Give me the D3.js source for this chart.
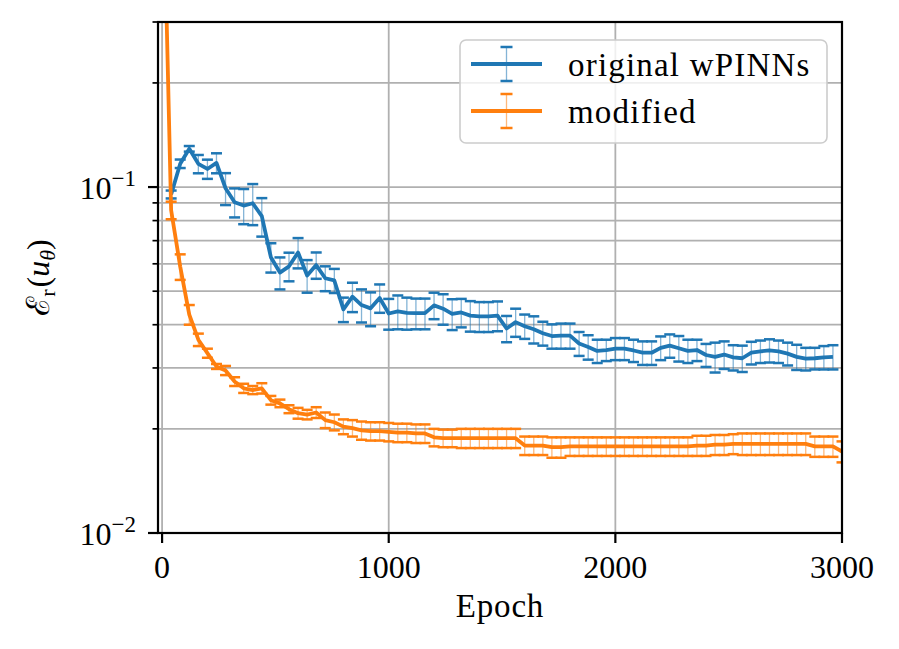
<!DOCTYPE html>
<html><head><meta charset="utf-8">
<script src="https://cdn.jsdelivr.net/npm/d3@7/dist/d3.min.js"></script>
<style>
body{margin:0;background:#fff}
svg{display:block}
text{font-family:"Liberation Serif","DejaVu Serif",serif;fill:#000}
</style>
</head><body>
<svg id="chart" width="899" height="649"></svg>
<script>
// ---------------- data ----------------
const blueEpochs = [40,80,120,160,200,240,280,320,360,400,440,480,520,560,600,640,680,720,760,800,
  840,880,920,960,1000,1040,1080,1120,1160,1200,1240,1280,1320,1360,1400,1440,1480,1520,1560,1600,
  1640,1680,1720,1760,1800,1840,1880,1920,1960,2000,2040,2080,2120,2160,2200,2240,2280,2320,2360,2400,
  2440,2480,2520,2560,2600,2640,2680,2720,2760,2800,2840,2880,2920,2960];
const blueMean = [0.0952,0.1168,0.1290,0.1167,0.1128,0.1174,0.0992,0.0904,0.0884,0.0898,0.0824,0.0627,0.0566,0.0590,0.0647,0.0555,0.0595,0.0545,0.0537,0.0443,
  0.0482,0.0456,0.0446,0.0478,0.0431,0.0437,0.0433,0.0432,0.0432,0.0455,0.0445,0.0430,0.0434,0.0425,0.0423,0.0423,0.0425,0.0390,0.0407,0.0396,
  0.0388,0.0378,0.0371,0.0372,0.0372,0.0353,0.0345,0.0336,0.0338,0.0341,0.0341,0.0337,0.0332,0.0332,0.0343,0.0348,0.0342,0.0336,0.0338,0.0327,
  0.0323,0.0328,0.0322,0.0320,0.0332,0.0335,0.0337,0.0335,0.0330,0.0323,0.0319,0.0320,0.0322,0.0323];
const blueErr = [0.0025,0.0033,0.0024,0.0071,0.0072,0.0078,0.0105,0.0087,0.0103,0.0122,0.0105,0.0061,0.0060,0.0056,0.0065,0.0060,0.0052,0.0045,0.0043,0.0036,
  0.0047,0.0050,0.0050,0.0045,0.0044,0.0049,0.0046,0.0044,0.0044,0.0040,0.0045,0.0044,0.0041,0.0043,0.0042,0.0042,0.0042,0.0034,0.0038,0.0032,
  0.0035,0.0030,0.0030,0.0031,0.0031,0.0028,0.0028,0.0026,0.0024,0.0025,0.0025,0.0025,0.0026,0.0026,0.0027,0.0027,0.0029,0.0026,0.0024,0.0025,
  0.0032,0.0030,0.0027,0.0028,0.0025,0.0025,0.0026,0.0025,0.0025,0.0027,0.0024,0.0023,0.0025,0.0026];

const orangeEpochs = [0,40,80,120,160,200,240,280,320,360,400,440,480,520,560,600,640,680,720,760,800,
  840,880,920,960,1000,1040,1080,1120,1160,1200,1240,1280,1320,1360,1400,1440,1480,1520,1560,1600,
  1640,1680,1720,1760,1800,1840,1880,1920,1960,2000,2040,2080,2120,2160,2200,2240,2280,2320,2360,2400,
  2440,2480,2520,2560,2600,2640,2680,2720,2760,2800,2840,2880,2920,2960,3000];
const orangeMean = [1.10,0.0857,0.0589,0.0428,0.0362,0.0331,0.0303,0.0295,0.0274,0.0262,0.0259,0.0262,0.0242,0.0237,0.0228,0.0222,0.0220,0.0223,0.0212,0.0209,0.0203,
  0.0201,0.0198,0.0197,0.0197,0.0196,0.0195,0.0195,0.0194,0.0194,0.0189,0.0188,0.0188,0.0188,0.0188,0.0188,0.0188,0.0188,0.0188,0.0188,0.0179,
  0.0179,0.0179,0.0177,0.0177,0.0178,0.0178,0.0178,0.0178,0.0178,0.0178,0.0178,0.0178,0.0178,0.0178,0.0178,0.0178,0.0178,0.0178,0.0179,0.0179,
  0.0180,0.0180,0.0181,0.0181,0.0181,0.0181,0.0181,0.0181,0.0181,0.0181,0.0181,0.0178,0.0178,0.0178,0.0172];
const orangeErr = [0.08,0.0050,0.0050,0.0028,0.0015,0.0010,0.0005,0.0009,0.0008,0.0008,0.0007,0.0009,0.0007,0.0006,0.0006,0.0008,0.0007,0.0008,0.0011,0.0011,0.0010,
  0.0011,0.0012,0.0012,0.0012,0.0012,0.0012,0.0012,0.0012,0.0012,0.0011,0.0011,0.0011,0.0012,0.0012,0.0012,0.0012,0.0012,0.0012,0.0012,0.0011,
  0.0011,0.0011,0.0012,0.0012,0.0011,0.0011,0.0011,0.0011,0.0011,0.0011,0.0011,0.0011,0.0011,0.0011,0.0011,0.0011,0.0011,0.0011,0.0012,0.0012,
  0.0012,0.0012,0.0012,0.0013,0.0013,0.0013,0.0013,0.0013,0.0013,0.0013,0.0013,0.0012,0.0012,0.0012,0.0012];

const seriesNames = ["original wPINNs","modified"];
const seriesColors = ["#1f77b4","#ff7f0e"];
const xTicks = [0,1000,2000,3000];
const yMajorTicks = [0.01,0.1];
const yMinorTicks = [0.02,0.03,0.04,0.05,0.06,0.07,0.08,0.09,0.2,0.3];
const yTickExp = {0.01:"\u22122",0.1:"\u22121"};
const xLabel = "Epoch";

// ---------------- layout ----------------
const L=158, R=842, T=22, B=533;
const svg = d3.select("#chart");
const x = d3.scaleLinear().domain([-18,3000]).range([L,R]);
const y = d3.scaleLog().domain([0.01,0.3]).range([B,T]);
const gridColor="#b0b0b0";
const lineW = 3.8, capW = 2.5, barW = 1.3;

// grid
const grid = svg.append("g");
grid.selectAll("line.gx").data(xTicks).join("line")
  .attr("x1",d=>x(d)).attr("x2",d=>x(d)).attr("y1",T).attr("y2",B)
  .attr("stroke",gridColor).attr("stroke-width",1.8);
grid.selectAll("line.gy").data(yMajorTicks.concat(yMinorTicks)).join("line")
  .attr("x1",L).attr("x2",R).attr("y1",d=>y(d)).attr("y2",d=>y(d))
  .attr("stroke",gridColor).attr("stroke-width",1.8);

// clip
svg.append("defs").append("clipPath").attr("id","clip")
  .append("rect").attr("x",L).attr("y",T).attr("width",R-L).attr("height",B-T);
const plot = svg.append("g").attr("clip-path","url(#clip)");

const series = [
  {ep:blueEpochs, m:blueMean, e:blueErr, c:seriesColors[0]},
  {ep:orangeEpochs, m:orangeMean, e:orangeErr, c:seriesColors[1]}
];
const capHalf = 5.5;
// bars & caps
series.forEach(s=>{
  const pts = s.ep.map((ep,i)=>({ep, m:s.m[i], e:s.e[i]}));
  const g = plot.append("g");
  g.selectAll("line.bar").data(pts).join("line")
    .attr("x1",d=>x(d.ep)).attr("x2",d=>x(d.ep))
    .attr("y1",d=>y(d.m+d.e)).attr("y2",d=>y(Math.max(d.m-d.e,1e-4)))
    .attr("stroke",s.c).attr("stroke-width",barW).attr("stroke-opacity",0.55);
  ["hi","lo"].forEach(k=>{
    g.selectAll("line.cap"+k).data(pts).join("line")
      .attr("x1",d=>x(d.ep)-capHalf).attr("x2",d=>x(d.ep)+capHalf)
      .attr("y1",d=>y(k==="hi"?d.m+d.e:d.m-d.e)).attr("y2",d=>y(k==="hi"?d.m+d.e:d.m-d.e))
      .attr("stroke",s.c).attr("stroke-width",capW);
  });
});
// lines
series.forEach(s=>{
  const pts = s.ep.map((ep,i)=>[ep,s.m[i]]);
  plot.append("path").datum(pts)
    .attr("d",d3.line().x(d=>x(d[0])).y(d=>y(d[1])))
    .attr("fill","none").attr("stroke",s.c).attr("stroke-width",lineW)
    .attr("stroke-linejoin","round").attr("stroke-linecap","butt");
});

// spines
svg.append("rect").attr("x",L).attr("y",T).attr("width",R-L).attr("height",B-T)
  .attr("fill","none").attr("stroke","#000").attr("stroke-width",2.2);

// x ticks
const xt = svg.append("g");
xt.selectAll("line").data(xTicks).join("line")
  .attr("x1",d=>x(d)).attr("x2",d=>x(d)).attr("y1",B).attr("y2",B+10)
  .attr("stroke","#000").attr("stroke-width",2.2);
xt.selectAll("text").data(xTicks).join("text")
  .attr("x",d=>x(d)).attr("y",578).attr("text-anchor","middle")
  .attr("font-size",32).text(d=>d);

// y ticks
const yt = svg.append("g");
yt.selectAll("line.maj").data(yMajorTicks).join("line")
  .attr("x1",L-10).attr("x2",L).attr("y1",d=>y(d)).attr("y2",d=>y(d))
  .attr("stroke","#000").attr("stroke-width",2.2);
yt.selectAll("line.min").data(yMinorTicks).join("line")
  .attr("x1",L-5.5).attr("x2",L).attr("y1",d=>y(d)).attr("y2",d=>y(d))
  .attr("stroke","#000").attr("stroke-width",1.7);
yt.selectAll("text").data(yMajorTicks).join("text")
  .attr("x",136).attr("y",d=>y(d)+12).attr("text-anchor","end").attr("font-size",32)
  .each(function(d){
    const t=d3.select(this);
    t.append("tspan").text("10");
    t.append("tspan").attr("dy",-13).attr("font-size",23).text(yTickExp[d]);
  });

// axis labels
svg.append("text").attr("x",(L+R)/2).attr("y",617).attr("text-anchor","middle")
  .attr("font-size",33).attr("letter-spacing",0.8).text(xLabel);
const yl = svg.append("text").attr("transform","translate(49,"+((T+B)/2)+") rotate(-90)")
  .attr("text-anchor","middle").attr("font-size",32);
yl.append("tspan").text("\u2130");
yl.append("tspan").attr("dy",6).attr("font-size",22).text("r");
yl.append("tspan").attr("dy",-6).attr("dx",2).text("(");
yl.append("tspan").attr("font-style","italic").text("u");
yl.append("tspan").attr("dy",6).attr("font-size",22).attr("font-style","italic").text("\u03b8");
yl.append("tspan").attr("dy",-6).text(")");

// legend
const lg = svg.append("g");
lg.append("rect").attr("x",460).attr("y",40).attr("width",367).attr("height",103)
  .attr("rx",6).attr("fill","#fff").attr("fill-opacity",0.8)
  .attr("stroke","#cccccc").attr("stroke-width",1.6);
seriesNames.forEach((name,i)=>{
  const cy = 64 + i*47, c = seriesColors[i], cx = 506.5;
  lg.append("line").attr("x1",cx).attr("x2",cx).attr("y1",cy-17).attr("y2",cy+17)
    .attr("stroke",c).attr("stroke-width",barW).attr("stroke-opacity",0.55);
  [cy-17,cy+17].forEach(yy=>lg.append("line").attr("x1",cx-6).attr("x2",cx+6)
    .attr("y1",yy).attr("y2",yy).attr("stroke",c).attr("stroke-width",capW));
  lg.append("line").attr("x1",471).attr("x2",542).attr("y1",cy).attr("y2",cy)
    .attr("stroke",c).attr("stroke-width",lineW);
  lg.append("text").attr("x",568).attr("y",cy+12).attr("font-size",33)
    .attr("letter-spacing",1.2).text(name);
});
</script>
</body></html>
